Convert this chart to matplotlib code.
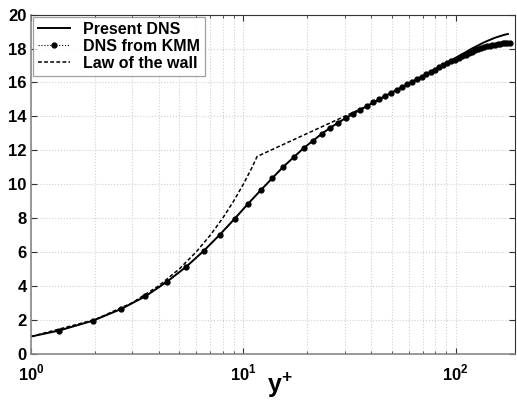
import numpy as np
import matplotlib
matplotlib.use('Agg')
import matplotlib.pyplot as plt
from matplotlib.ticker import FixedLocator, NullFormatter

plt.rcParams['font.family'] = ['Liberation Sans', 'DejaVu Sans']
plt.rcParams['font.weight'] = 'bold'
plt.rcParams['mathtext.fontset'] = 'custom'
plt.rcParams['mathtext.rm'] = 'Liberation Sans:bold'
plt.rcParams['mathtext.bf'] = 'Liberation Sans:bold'

# ── Data ────────────────────────────────────────────────────────────────────

# Present DNS
dns_y = [1.0, 1.35, 1.95, 2.65, 3.46, 4.37, 5.39, 6.52, 7.75, 9.09, 10.5,
         12.1, 13.7, 15.4, 17.3, 19.2, 21.3, 23.4, 25.6, 27.9, 30.3, 35.4,
         40.9, 46.6, 52.7, 59.1, 65.8, 72.8, 80.0, 87.5, 95.0, 103.0, 111.0,
         119.0, 128.0, 136.0, 145.0, 153.0, 162.0, 170.0, 176.0]
dns_u = [1.0, 1.35, 1.93, 2.62, 3.38, 4.24, 5.13, 6.07, 7.02, 7.95, 8.83,
         9.65, 10.36, 11.02, 11.6, 12.12, 12.57, 12.97, 13.32, 13.62, 13.9,
         14.38, 14.82, 15.21, 15.56, 15.89, 16.2, 16.5, 16.78, 17.05, 17.3,
         17.55, 17.78, 18.0, 18.2, 18.37, 18.52, 18.64, 18.74, 18.82, 18.86]

# DNS from KMM (Kim, Moin & Moser)
kmm_y = [1.354, 1.948, 2.650, 3.459, 4.374, 5.394, 6.520, 7.751, 9.085,
         10.52, 12.06, 13.70, 15.44, 17.28, 19.22, 21.25, 23.38, 25.61, 27.92,
         30.33, 32.84, 35.43, 38.10, 40.86, 43.70, 46.63, 49.63, 52.72, 55.88,
         59.12, 62.43, 65.81, 69.26, 72.77, 76.35, 80.00, 83.70, 87.46, 91.27,
         95.14, 99.05, 103.0, 107.0, 111.1, 115.2, 119.3, 123.4, 127.6, 131.8,
         136.0, 140.3, 144.5, 148.8, 153.1, 157.4, 161.6, 166.0, 170.3, 174.6,
         180.0]
kmm_u = [1.35, 1.93, 2.62, 3.38, 4.24, 5.13, 6.07, 7.02, 7.95,
         8.83, 9.65, 10.36, 11.02, 11.6, 12.12, 12.57, 12.97, 13.32, 13.62,
         13.9, 14.15, 14.38, 14.6, 14.82, 15.02, 15.21, 15.39, 15.56, 15.73,
         15.89, 16.05, 16.2, 16.35, 16.49, 16.63, 16.76, 16.89, 17.01, 17.13,
         17.24, 17.35, 17.45, 17.55, 17.64, 17.73, 17.81, 17.89, 17.96, 18.02,
         18.08, 18.13, 18.17, 18.21, 18.24, 18.27, 18.29, 18.31, 18.32, 18.33,
         18.33]

# Law of the wall
law_y = [1.0, 2.0, 3.0, 4.0, 5.0, 6.0, 7.0, 8.0, 9.0, 10.0, 11.0, 11.6, 45.0]
law_u = [1.0, 2.0, 3.0, 4.0, 5.0, 6.0, 7.0, 8.0, 9.0, 10.0, 11.0, 11.63, 15.02]

y_ticks = [0, 2, 4, 6, 8, 10, 12, 14, 16, 18, 20]
x_ticks = [1, 10, 100]
x_ticklabels = [r'$10^{0}$', r'$10^{1}$', r'$10^{2}$']

# ── Figure ──────────────────────────────────────────────────────────────────

fig = plt.figure(figsize=(5.17, 4.0), dpi=100)
ax = fig.add_axes([31 / 517, 46.5 / 400, (515 - 31) / 517, (385.3 - 46.5) / 400])

ax.plot(dns_y, dns_u, color='black', linewidth=1.4, label='Present DNS')
ax.plot(kmm_y, kmm_u, color='black', linestyle=':', linewidth=0.8,
        marker='o', markersize=3.5, label='DNS from KMM')
ax.plot(law_y, law_u, color='black', linestyle='--', linewidth=1.1,
        dashes=(2.5, 1.5), label='Law of the wall')

ax.set_xscale('log')
ax.set_xlim(1, 190)
ax.set_ylim(0, 20)

ax.set_xticks(x_ticks)
ax.set_xticklabels(x_ticklabels, fontsize=12)
minor = [m * 10 ** d for d in range(0, 3) for m in range(2, 10) if m * 10 ** d < 190]
ax.xaxis.set_minor_locator(FixedLocator(minor))
ax.xaxis.set_minor_formatter(NullFormatter())
ax.set_yticks(y_ticks)
ax.set_yticklabels([str(t) for t in y_ticks], fontsize=12, fontweight='bold')

ax.tick_params(which='both', direction='in', top=True, right=True,
               color='#333333', pad=3)
ax.tick_params(axis='x', which='major', pad=7)
ax.tick_params(which='major', length=4)
ax.tick_params(which='minor', length=2.5)

ax.grid(which='major', color='#d0d0d0', linestyle=':', linewidth=0.8)
ax.grid(which='minor', axis='x', color='#d0d0d0', linestyle=':', linewidth=0.8)

for side in ['left', 'bottom']:
    ax.spines[side].set_color('#888888')
    ax.spines[side].set_linewidth(1.2)
for side in ['top', 'right']:
    ax.spines[side].set_color('#333333')
    ax.spines[side].set_linewidth(0.8)

ax.set_xlabel(r'$\mathbf{y^{+}}$', fontsize=18)
ax.xaxis.set_label_coords(0.514, -0.05)

leg = ax.legend(loc='upper left', bbox_to_anchor=(0.0, 1.0), fontsize=11.5,
                frameon=True, fancybox=False, borderpad=0.3, labelspacing=0.12,
                handlelength=2.0, handletextpad=0.8, borderaxespad=0.15)
leg.get_frame().set_edgecolor('#888888')
leg.get_frame().set_linewidth(0.9)
for t in leg.get_texts():
    t.set_fontweight('bold')

fig.savefig('out.png', dpi=100)
